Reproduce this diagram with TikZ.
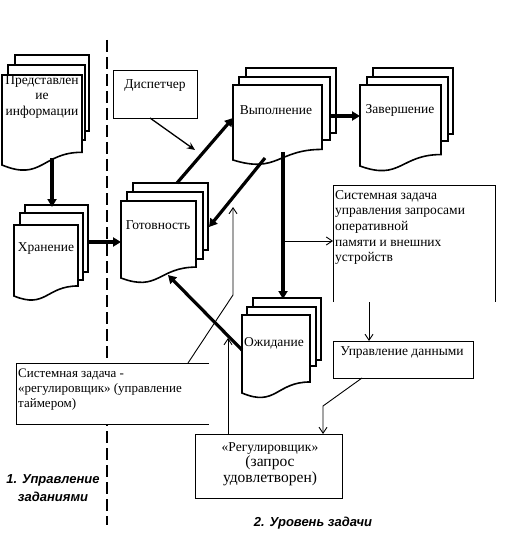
\documentclass[tikz,border=0pt]{standalone}
\usepackage{fontspec}
\setmainfont{Liberation Serif}
\newfontfamily\labfont{Liberation Sans}
\usetikzlibrary{arrows.meta}
\tikzset{
  docl/.style={line width=1.6pt,fill=white,line join=miter},
  thinbox/.style={line width=0.9pt,fill=white},
  thickarr/.style={line width=3.2pt,-{Triangle[length=8pt,width=9pt]}},
  thinarr/.style={line width=0.9pt,-{Straight Barb[length=6pt,width=8pt,line width=0.9pt]}},
  midarr/.style={line width=1.3pt,-{Stealth[length=8pt,width=7pt]}},
  txt/.style={font=\fontsize{13.5}{15.7}\selectfont,inner sep=0pt,align=center},
  lab/.style={font=\labfont\bfseries\itshape\fontsize{13}{18}\selectfont,inner sep=0pt,align=center}
}
\newcommand{\backdoc}[4]{\draw[docl] (#1,#2) rectangle (#3,#4);}
\newcommand{\frontdoc}[4]{%
  \pgfmathsetmacro{\docrb}{#2+0.8587*(#4-#2)}%
  \pgfmathsetmacro{\doccb}{#2+1.185*(#4-#2)}%
  \pgfmathsetmacro{\docmx}{(#1+#3)/2}%
  \draw[docl] (#1,#2) -- (#3,#2) -- (#3,\docrb) .. controls (\docmx,\docrb) and (\docmx,\doccb) .. (#1,#4) -- cycle;}
\begin{document}
\begin{tikzpicture}[x=1pt,y=-1pt]
\useasboundingbox[fill=white] (0,0) rectangle (504,548);
% dashed separator
\draw[line width=2.4pt,dash pattern=on 12pt off 5pt] (107,40) -- (107,525);

% document stacks
\backdoc{15}{55}{89}{131}\backdoc{8}{65}{85}{140}\frontdoc{2}{75}{82}{165}
\node[txt] (pred) at (42,97) {Представлен\\ие\\информации};
\backdoc{25}{205}{88}{272}\backdoc{20}{213}{83}{280}\frontdoc{14}{225}{78}{296}
\node[txt] (hran) at (46,249) {Хранение};
\backdoc{133}{183}{208}{250}\backdoc{127}{192}{203}{259}\frontdoc{121}{201}{196}{278}
\node[txt] (got) at (158,225) {Готовность};
\backdoc{246}{68}{336}{133}\backdoc{239}{77}{330}{140}\frontdoc{233}{85}{322}{160}
\node[txt] (vyp) at (276,110) {Выполнение};
\backdoc{373}{68}{453}{134}\backdoc{367}{77}{448}{141}\frontdoc{360}{85}{441}{166}
\node[txt] (zav) at (400,110) {Завершение};
\backdoc{253}{298}{321}{360}\backdoc{247}{307}{316}{366}\frontdoc{242}{315}{310}{393}
\node[txt] (ozh) at (274,343) {Ожидание};

% plain boxes
\draw[thinbox] (113,70) rectangle (197,118);
\node[txt] (disp) at (155,86) {Диспетчер};
\fill[white] (333,185) rectangle (495,302);
\draw[line width=0.9pt] (333,302) -- (333,185) -- (495,185) -- (495,302);
\node[txt,anchor=north west,align=left] (sysz) at (335,190) {Системная задача\\управления запросами\\оперативной\\памяти и внешних\\устройств};
\draw[thinbox] (333,341) rectangle (473,378);
\node[txt] (upd) at (402,353) {Управление данными};
\draw[thinbox] (195,434) rectangle (342,498);
\node[txt] (reg) at (270,464) {\fontsize{13.5}{18}\selectfont «Регулировщик»\\\fontsize{15.5}{18.5}\selectfont (запрос\\\fontsize{15.5}{18.5}\selectfont удовлетворен)};
\fill[white] (16,363) rectangle (209,424);
\draw[line width=0.9pt] (209,363) -- (16,363) -- (16,424) -- (209,424);
\node[txt,anchor=north west,align=left,font=\fontsize{13}{14.6}\selectfont] (sreg) at (18,369) {Системная задача -\\«регулировщик» (управление\\таймером)};

% coordinates
\coordinate (predB) at (52,158);
\coordinate (hranT) at (52,207);
\coordinate (hranR) at (88,242);
\coordinate (gotL) at (121,242);
\coordinate (gotT) at (177,183);
\coordinate (vypL) at (233,118);
\coordinate (vypB) at (265,158);
\coordinate (gotR) at (209,227);
\coordinate (vypR) at (330,116);
\coordinate (zavL) at (360,116);
\coordinate (vypB2) at (283,152);
\coordinate (ozhT) at (283,299);
\coordinate (br) at (283,241);
\coordinate (sysL) at (333,241);
\coordinate (dispB) at (150,118);
\coordinate (dispTip) at (195,150);
\coordinate (ozhL) at (242,350);
\coordinate (gotB) at (168,275);
\coordinate (sysB) at (369,302);
\coordinate (updT) at (369,341);
\coordinate (updB) at (362,378);
\coordinate (bend) at (323,406);
\coordinate (regT) at (323,434);
\coordinate (sregT) at (188,363);
\coordinate (kink) at (233,295);
\coordinate (tipA) at (233,207);
\coordinate (regT2) at (228,434);
\coordinate (tipB) at (228,338);

% connectors
\draw[thickarr] (predB) -- (hranT);
\draw[thickarr] (hranR) -- (gotL);
\draw[thickarr] (gotT) -- (vypL);
\draw[thickarr] (vypB) -- (gotR);
\draw[thickarr] (vypR) -- (zavL);
\draw[thickarr] (vypB2) -- (ozhT);
\draw[thinarr] (br) -- (sysL);
\draw[midarr] (dispB) -- (dispTip);
\draw[thickarr] (ozhL) -- (gotB);
\draw[thinarr] (sysB) -- (updT);
\draw[thinarr] (updB) -- (bend) -- (regT);
\draw[thinarr] (sregT) -- (kink) -- (tipA);
\draw[thinarr] (regT2) -- (tipB);

% labels
\node[lab] (l1) at (53,488) {1. Управление\\заданиями};
\node[lab] (l2) at (313,523) {2. Уровень задачи};
\end{tikzpicture}
\end{document}
